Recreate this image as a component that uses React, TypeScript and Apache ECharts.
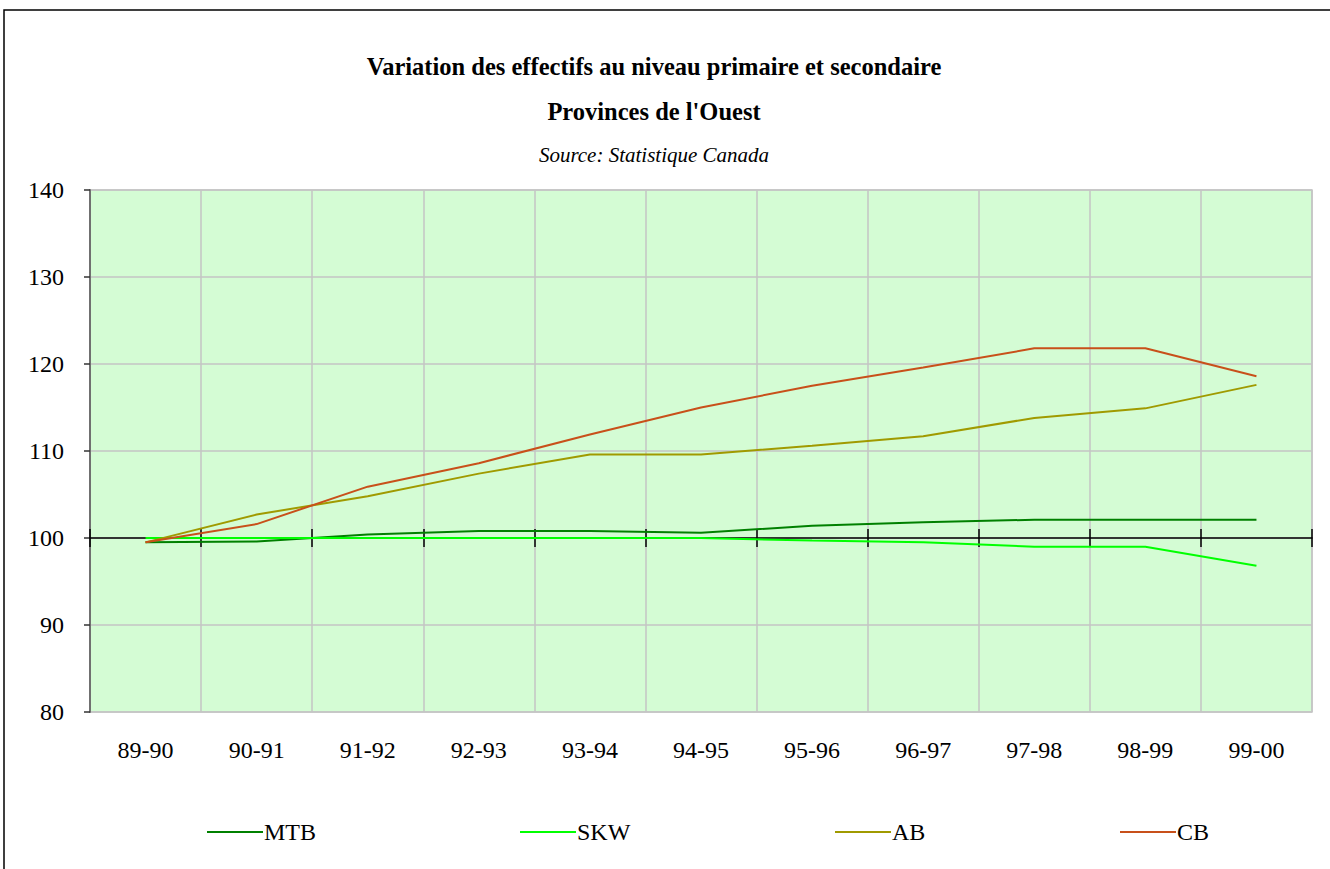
import React, { useEffect, useRef } from "react";
import * as echarts from "echarts";

const categories = ["89-90", "90-91", "91-92", "92-93", "93-94", "94-95", "95-96", "96-97", "97-98", "98-99", "99-00"];
const mtb = [99.5, 99.6, 100.4, 100.8, 100.8, 100.6, 101.4, 101.8, 102.1, 102.1, 102.1];
const skw = [100.0, 100.0, 100.0, 100.0, 100.0, 100.0, 99.7, 99.5, 99.0, 99.0, 96.8];
const ab = [99.5, 102.7, 104.8, 107.4, 109.6, 109.6, 110.6, 111.7, 113.8, 114.9, 117.6];
const cb = [99.5, 101.6, 105.9, 108.6, 111.9, 115.0, 117.5, 119.6, 121.8, 121.8, 118.6];

const seriesNames = ["MTB", "SKW", "AB", "CB"];
const seriesColors = ["#008000", "#00FF00", "#A09A00", "#C8501A"];
const seriesValues = [mtb, skw, ab, cb];
const yTicks = { min: 80, max: 140, interval: 10 };

const FONT = "Liberation Serif";

export default function App() {
  const ref = useRef<HTMLDivElement>(null);
  useEffect(() => {
    if (!ref.current) return;
    const chart = echarts.init(ref.current, undefined, { renderer: "svg" });
    const gridTop = 190;
    const gridBottomPx = 712;
    const gridH = gridBottomPx - gridTop;
    const offset100 = -((100 - yTicks.min) / (yTicks.max - yTicks.min)) * gridH;
    const legendLefts = [202, 515, 830, 1115];
    const option: any = {
      animation: false,
      backgroundColor: "#ffffff",
      textStyle: { fontFamily: FONT, color: "#000" },
      title: [
        { text: "Variation des effectifs au niveau primaire et secondaire", left: 649, top: 49, textAlign: "center", textStyle: { fontFamily: FONT, fontWeight: "bold", fontSize: 24.5, color: "#000" } },
        { text: "Provinces de l'Ouest", left: 649, top: 94, textAlign: "center", textStyle: { fontFamily: FONT, fontWeight: "bold", fontSize: 24.5, color: "#000" } },
        { text: "Source: Statistique Canada", left: 649, top: 139, textAlign: "center", textStyle: { fontFamily: FONT, fontStyle: "italic", fontWeight: "normal", fontSize: 21, color: "#000" } },
      ],
      graphic: [
        { type: "rect", shape: { x: 4, y: 10, width: 1400, height: 1000 }, style: { fill: "none", stroke: "#000", lineWidth: 1.5 }, silent: true },
      ],
      legend: seriesNames.map((n, i) => ({
        data: [n],
        left: legendLefts[i],
        top: 815,
        icon: "rect",
        itemWidth: 56,
        itemHeight: 2,
        itemGap: 4,
        textStyle: { fontFamily: FONT, fontSize: 24, color: "#000", padding: [0, 0, 0, -4] },
        selectedMode: false,
      })),
      grid: {
        left: 90,
        right: 18,
        top: gridTop,
        height: gridH,
        show: true,
        backgroundColor: "#D4FCD4",
        borderColor: "#c4c4c4",
        borderWidth: 1.5,
      },
      xAxis: [
        {
          type: "category",
          data: categories,
          boundaryGap: true,
          position: "bottom",
          axisLine: { show: false },
          axisTick: { show: false },
          axisLabel: { fontFamily: FONT, fontSize: 24, color: "#000", margin: 26 },
          splitLine: { show: true, lineStyle: { color: "#c4c4c4", width: 1.5 } },
        },
        {
          type: "category",
          data: categories,
          boundaryGap: true,
          position: "bottom",
          offset: offset100,
          axisLine: { show: true, lineStyle: { color: "#000", width: 1.5 } },
          axisTick: { show: true, length: 9, lineStyle: { color: "#000", width: 1.5 } },
          axisLabel: { show: false },
          splitLine: { show: false },
        },
        {
          type: "category",
          data: categories,
          boundaryGap: true,
          position: "bottom",
          offset: offset100,
          axisLine: { show: false },
          axisTick: { show: true, inside: true, length: 9, lineStyle: { color: "#000", width: 1.5 } },
          axisLabel: { show: false },
          splitLine: { show: false },
        },
      ],
      yAxis: {
        type: "value",
        min: yTicks.min,
        max: yTicks.max,
        interval: yTicks.interval,
        axisLine: { show: true, lineStyle: { color: "#707070", width: 2 } },
        axisTick: { show: true, length: 6, lineStyle: { color: "#333", width: 1.5 } },
        axisLabel: { fontFamily: FONT, fontSize: 24, color: "#000", margin: 26 },
        splitLine: { show: true, lineStyle: { color: "#c4c4c4", width: 1.5 } },
      },
      series: seriesNames.map((n, i) => ({
        name: n,
        type: "line",
        xAxisIndex: 0,
        data: seriesValues[i],
        symbol: "none",
        showSymbol: false,
        lineStyle: { color: seriesColors[i], width: 2 },
        itemStyle: { color: seriesColors[i] },
        z: 3,
      })),
    };
    chart.setOption(option);
    return () => chart.dispose();
  }, []);
  return <div ref={ref} style={{ position: "fixed", left: 0, top: 0, width: 1330, height: 869 }} />;
}
